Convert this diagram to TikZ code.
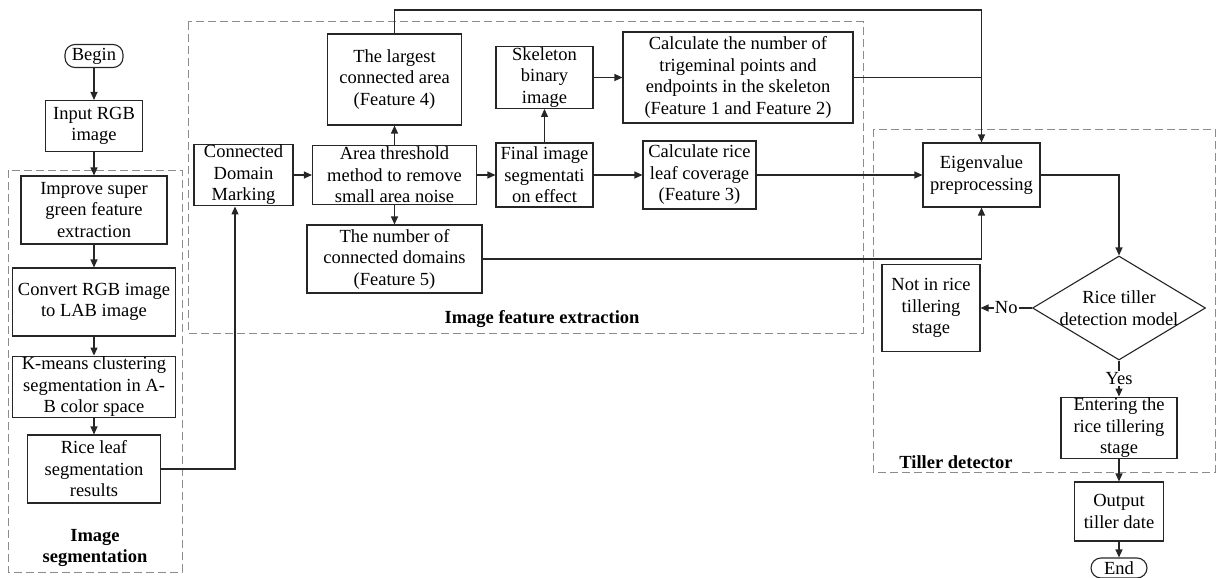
\documentclass[tikz,border=0pt]{standalone}
\usepackage{fontspec}
\setmainfont{Liberation Serif}
\usetikzlibrary{shapes.geometric, arrows.meta, positioning, calc}

\newcommand{\diagfont}{\fontsize{18.5}{21.5}\selectfont}

\tikzset{
  box/.style={draw=black!85, rectangle, line width=1.1pt, align=center, inner sep=1pt},
  term/.style={box, rounded corners=10pt},
  decision/.style={draw=black!85, diamond, line width=1.1pt, align=center, inner sep=-1.7pt, aspect=1.66},
  groupbox/.style={draw=black!45, dash pattern=on 8pt off 4pt, line width=1pt},
  grouplabel/.style={font=\diagfont\bfseries, align=center},
  conn/.style={draw=black!85, line width=1.2pt},
  connarrow/.style={conn, -{Triangle[length=8pt,width=7pt]}}
}

\begin{document}
\begin{tikzpicture}[x=1pt, y=-1pt, font=\diagfont]
        \useasboundingbox (0,0) rectangle (1216,578);

        % Dashed groups
        \draw[groupbox] (8,170) rectangle (182,572);
        \draw[groupbox] (188,22) rectangle (863,333);
        \draw[groupbox] (873,129) rectangle (1215,472);

        \node[grouplabel] (seglabel) at (95,548) {Image\\segmentation};
        \node[grouplabel] (featlabel) at (542,319) {Image feature extraction};
        \node[grouplabel] (tillerlabel) at (956,462) {Tiller detector};

        % Image segmentation
        \node[term, minimum width=58, minimum height=23] (begin) at (94,56) {Begin};
        \node[box, minimum width=97, minimum height=51] (input) at (94,126) {Input RGB\\image};
        \node[box, minimum width=146, minimum height=68] (improve) at (94,210) {Improve super\\green feature\\extraction};
        \node[box, minimum width=163, minimum height=68] (convert) at (94,302) {Convert RGB image\\to LAB image};
        \node[box, minimum width=163, minimum height=59] (kmeans) at (94,387) {K-means clustering\\segmentation in A-\\B color space};
        \node[box, minimum width=133, minimum height=68] (leafres) at (94,469) {Rice leaf\\segmentation\\results};

        % Image feature extraction
        \node[box, minimum width=99, minimum height=60] (cdm) at (243.5,175) {Connected\\Domain\\Marking};
        \node[box, minimum width=164, minimum height=59] (area) at (394.5,175) {Area threshold\\method to remove\\small area noise};
        \node[box, minimum width=134, minimum height=91] (largest) at (394.5,79.5) {The largest\\connected area\\(Feature 4)};
        \node[box, minimum width=175, minimum height=68] (numdom) at (394.5,259) {The number of\\connected domains\\(Feature 5)};
        \node[box, minimum width=97, minimum height=59] (skel) at (544.5,77.5) {Skeleton\\binary\\image};
        \node[box, minimum width=97, minimum height=64] (final) at (544.5,175) {Final image\\segmentati\\on effect};
        \node[box, minimum width=230, minimum height=91] (calcnum) at (738,77.5) {Calculate the number of\\trigeminal points and\\endpoints in the skeleton\\(Feature 1 and Feature 2)};
        \node[box, minimum width=113, minimum height=68] (cover) at (699.5,175) {Calculate rice\\leaf coverage\\(Feature 3)};

        % Tiller detector
        \node[box, minimum width=117, minimum height=64] (eigen) at (981.5,175) {Eigenvalue\\preprocessing};
        \node[decision, minimum width=173, minimum height=104] (model) at (1119,308) {Rice tiller\\detection model};
        \node[box, minimum width=98, minimum height=87] (notin) at (931,308) {Not in rice\\tillering\\stage};
        \node[box, minimum width=116, minimum height=56] (enter) at (1119,428) {Entering the\\rice tillering\\stage};
        \node[box, minimum width=89, minimum height=59] (output) at (1119,511.5) {Output\\tiller date};
        \node[term, minimum width=56, minimum height=20] (finish) at (1119,568) {End};

        % Flow
        \draw[connarrow] (begin) -- (input);
        \draw[connarrow] (input) -- (improve);
        \draw[connarrow] (improve) -- (convert);
        \draw[connarrow] (convert) -- (kmeans);
        \draw[connarrow] (kmeans) -- (leafres);
        \draw[connarrow] (leafres.east) -| ([xshift=-8.5pt]cdm.south);
        \draw[connarrow] (cdm) -- (area);
        \draw[connarrow] (area) -- (largest);
        \draw[connarrow] (area) -- (numdom);
        \draw[connarrow] (area) -- (final);
        \draw[connarrow] (final) -- (skel);
        \draw[connarrow] (skel) -- (calcnum);
        \draw[connarrow] (final) -- (cover);

        % Features into eigenvalue preprocessing
        \coordinate (topturn) at (981.5,10);
        \draw[connarrow] (largest.north) |- (topturn) -- (eigen.north);
        \draw[conn] (calcnum.east) -- (calcnum.east -| topturn);
        \draw[connarrow] (cover.east) -- (eigen.west);
        \draw[connarrow] (numdom.east) -| (eigen.south);

        \draw[connarrow] (eigen.east) -| (model.north);
        \draw[connarrow] (model.west) -- node[fill=white, inner sep=1pt] {No} (notin.east);
        \draw[connarrow] (model.south) -- node[fill=white, inner sep=1pt] {Yes} (enter.north);
        \draw[connarrow] (enter) -- (output);
        \draw[connarrow] (output) -- (finish);

    \end{tikzpicture}
\end{document}
